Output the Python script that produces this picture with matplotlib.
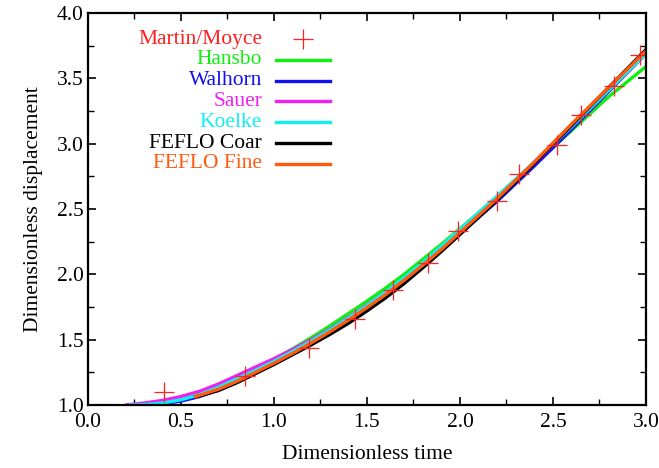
import matplotlib
matplotlib.use("Agg")
import matplotlib.pyplot as plt
from matplotlib.ticker import MultipleLocator, FormatStrFormatter
from matplotlib.lines import Line2D

plt.rcParams["font.family"] = ["Liberation Serif", "DejaVu Serif"]

# --- Daten ---
exp_t = [0.41, 0.845, 1.19, 1.435, 1.64, 1.83, 1.99, 2.20, 2.32, 2.52, 2.65, 2.83, 2.97]
exp_y = [1.10, 1.22, 1.44, 1.66, 1.88, 2.09, 2.33, 2.56, 2.77, 2.99, 3.22, 3.44, 3.68]

hansbo_t = [0.45, 0.5, 0.6, 0.7, 0.8, 0.9, 1.0, 1.1, 1.2, 1.3, 1.4, 1.5, 1.6, 1.7, 1.8, 1.9, 2.0, 2.2, 2.4, 2.6, 2.8, 3.0]
hansbo_y = [1.04, 1.055, 1.095, 1.15, 1.215, 1.28, 1.35, 1.43, 1.515, 1.605, 1.70, 1.795, 1.895, 2.00, 2.115, 2.23, 2.35, 2.59, 2.84, 3.10, 3.36, 3.59]

walhorn_t = [0.28, 0.4, 0.5, 0.6, 0.7, 0.8, 0.9, 1.0, 1.1, 1.2, 1.3, 1.4, 1.5, 1.6, 1.7, 1.8, 1.9, 2.0, 2.2, 2.4, 2.6, 2.8, 3.0]
walhorn_y = [1.00, 1.01, 1.03, 1.065, 1.115, 1.18, 1.25, 1.32, 1.40, 1.48, 1.565, 1.655, 1.75, 1.85, 1.96, 2.07, 2.19, 2.31, 2.56, 2.83, 3.11, 3.40, 3.69]

sauer_t = [0.2, 0.3, 0.4, 0.5, 0.6, 0.7, 0.8, 0.9, 1.0, 1.1, 1.2, 1.3, 1.4, 1.5, 1.6, 1.7, 1.8, 1.9, 2.0, 2.2, 2.4, 2.6, 2.8, 3.0]
sauer_y = [1.00, 1.015, 1.035, 1.065, 1.105, 1.16, 1.225, 1.29, 1.355, 1.425, 1.50, 1.58, 1.67, 1.765, 1.865, 1.97, 2.085, 2.20, 2.33, 2.58, 2.85, 3.13, 3.41, 3.69]

koelke_t = [0.22, 0.3, 0.4, 0.5, 0.6, 0.7, 0.8, 0.9, 1.0, 1.1, 1.2, 1.3, 1.4, 1.5, 1.6, 1.7, 1.8, 1.9, 2.0, 2.2, 2.4, 2.6, 2.8, 3.0]
koelke_y = [1.00, 1.003, 1.015, 1.04, 1.08, 1.135, 1.20, 1.265, 1.335, 1.41, 1.49, 1.575, 1.665, 1.76, 1.865, 1.975, 2.09, 2.215, 2.345, 2.60, 2.86, 3.13, 3.41, 3.69]

coar_t = [0.57, 0.6, 0.7, 0.8, 0.9, 1.0, 1.1, 1.2, 1.3, 1.4, 1.5, 1.6, 1.7, 1.8, 1.9, 2.0, 2.2, 2.4, 2.6, 2.8, 3.0]
coar_y = [1.06, 1.07, 1.11, 1.17, 1.24, 1.31, 1.385, 1.46, 1.54, 1.625, 1.72, 1.82, 1.93, 2.05, 2.175, 2.305, 2.57, 2.85, 3.14, 3.43, 3.72]

fine_t = [0.57, 0.6, 0.7, 0.8, 0.9, 1.0, 1.1, 1.2, 1.3, 1.4, 1.5, 1.6, 1.7, 1.8, 1.9, 2.0, 2.2, 2.4, 2.6, 2.8, 3.0]
fine_y = [1.06, 1.075, 1.12, 1.18, 1.25, 1.32, 1.395, 1.475, 1.56, 1.65, 1.745, 1.845, 1.955, 2.07, 2.19, 2.32, 2.58, 2.86, 3.15, 3.43, 3.71]

labels = ["Martin/Moyce", "Hansbo", "Walhorn", "Sauer", "Koelke", "FEFLO Coar", "FEFLO Fine"]
colors = ["#ff2020", "#10f010", "#1010f0", "#f020f0", "#10f0f0", "#000000", "#ff5a10"]

fs = 15.5

fig = plt.figure(figsize=(6.59, 4.68), dpi=100)
ax = fig.add_axes([0.1335, 0.1346, 0.8467, 0.8376])

curves = [(hansbo_t, hansbo_y), (walhorn_t, walhorn_y), (sauer_t, sauer_y),
          (koelke_t, koelke_y), (coar_t, coar_y), (fine_t, fine_y)]
for (t, y), c in zip(curves, colors[1:]):
    ax.plot(t, y, color=c, lw=2.4, solid_capstyle="butt")

ax.plot(exp_t, exp_y, ls="none", marker="+", ms=14, mew=0.9, color=colors[0])

ax.set_xlim(0, 3)
ax.set_ylim(1, 4)
ax.xaxis.set_major_locator(MultipleLocator(0.5))
ax.xaxis.set_minor_locator(MultipleLocator(0.25))
ax.yaxis.set_major_locator(MultipleLocator(0.5))
ax.yaxis.set_minor_locator(MultipleLocator(0.25))
ax.xaxis.set_major_formatter(FormatStrFormatter("%.1f"))
ax.yaxis.set_major_formatter(FormatStrFormatter("%.1f"))
ax.tick_params(which="both", direction="in", top=True, right=True, labelsize=fs)
ax.tick_params(axis="x", pad=6)
ax.tick_params(axis="y", pad=3)
ax.tick_params(which="major", length=6, width=1.2)
ax.tick_params(which="minor", length=4, width=1.0)
for s in ax.spines.values():
    s.set_linewidth(1.6)

ax.set_xlabel("Dimensionless time", fontsize=fs, labelpad=9)
ax.set_ylabel("Dimensionless displacement", fontsize=fs, labelpad=10)

# --- Legende (gnuplot-Stil, Text rechtsbuendig) ---
y0 = (405 - 39) / 392
dy = 20.8 / 392
for i, (lab, c) in enumerate(zip(labels, colors)):
    yy = y0 - i * dy
    ax.text(0.312, yy, lab, color=c, ha="right", va="center", fontsize=fs, transform=ax.transAxes)
    if i == 0:
        ax.add_line(Line2D([0.385], [yy], marker="+", ms=14, mew=0.9, color=c, transform=ax.transAxes))
    else:
        ax.add_line(Line2D([0.337, 0.434], [yy, yy], lw=2.4, color=c, transform=ax.transAxes))

fig.savefig("out.png", dpi=100)
